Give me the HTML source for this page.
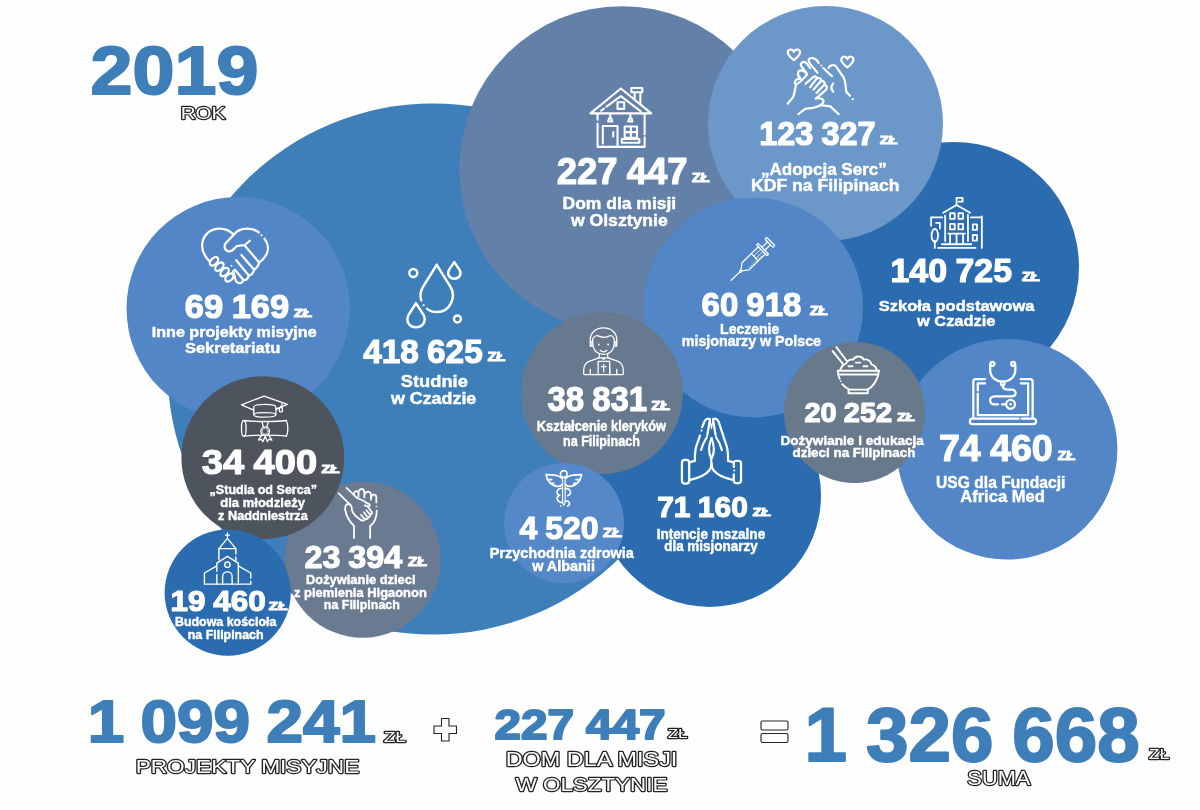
<!DOCTYPE html>
<html lang="pl"><head><meta charset="utf-8"><title>2019 rok – projekty misyjne</title>
<style>
html,body{margin:0;padding:0;background:#fff}
svg{display:block}
text{font-family:"Liberation Sans",sans-serif;font-weight:bold}
.n,.z,.l{fill:#fff;stroke:#fff;stroke-linejoin:round}
.n,.b{word-spacing:-.03em}
.n{stroke-width:1.2}
.z{stroke-width:1.1;text-transform:uppercase}
.u{text-transform:uppercase}
.l{stroke-width:0.45}
.b{fill:#3e7eb9;stroke:#3e7eb9;stroke-width:2.0;stroke-linejoin:round}
.o{fill:#fff;stroke:#222;stroke-width:2.3;stroke-linejoin:round;paint-order:stroke fill;font-weight:normal;font-family:"Liberation Sans",sans-serif}
.os{fill:#fff;stroke:#222;stroke-width:1.1;stroke-linejoin:round}
.i{fill:none;stroke:#fff;stroke-width:1.9;stroke-linecap:round;stroke-linejoin:round}
</style></head><body>
<svg width="1200" height="810" viewBox="0 0 1200 810">
<rect width="1200" height="810" fill="#fefefe"/>
<g id="bubbles">
<circle cx="433" cy="369" r="265.5" fill="#3e7eb9"/>
<circle cx="709.5" cy="495.5" r="111.5" fill="#2b6cb0"/>
<circle cx="622" cy="169" r="162.8" fill="#6280a8"/>
<circle cx="953.7" cy="267.2" r="125.3" fill="#2b6cb0"/>
<circle cx="825.5" cy="123.5" r="117.5" fill="#6b97c9"/>
<circle cx="1007.1" cy="449.2" r="110.3" fill="#5286c6"/>
<circle cx="753.2" cy="307.5" r="109.8" fill="#5286c6"/>
<circle cx="602" cy="393" r="81" fill="#67798f"/>
<circle cx="854.5" cy="412.5" r="70.6" fill="#69798c"/>
<circle cx="564" cy="523" r="60" fill="#5588c9"/>
<circle cx="238.2" cy="308.6" r="111.7" fill="#5286c6"/>
<circle cx="362.7" cy="559.7" r="78.1" fill="#6a7a90"/>
<circle cx="262.8" cy="457.7" r="81.4" fill="#4d545e"/>
<circle cx="227.7" cy="592.6" r="63.1" fill="#2b6cb0"/>
</g>
<g id="icons" class="i">
<g transform="translate(190,220) scale(0.08645)" stroke-width="26">
<path d="M505 170C450 110 385 98 330 100C220 105 140 190 140 300C140 370 180 430 225 478"/>
<path d="M505 170C545 122 605 100 660 100C712 100 760 115 795 142"/>
<path d="M862 215C902 270 915 345 882 402C862 440 832 470 800 492"/>
<path d="M505 170L415 265C385 300 398 350 445 362C482 368 502 345 527 315C537 303 547 298 572 297L630 292L692 240"/>
<path d="M630 292L800 492C792 532 765 560 742 575C737 612 705 640 680 642C675 682 642 702 615 692C608 735 555 748 528 700L500 590"/>
<path d="M595 405L742 575M535 465L680 642M520 575L615 692"/>
<ellipse cx="278" cy="478" rx="58" ry="36" transform="rotate(-45 278 478)"/>
<ellipse cx="340" cy="540" rx="58" ry="36" transform="rotate(-45 340 540)"/>
<ellipse cx="400" cy="602" rx="58" ry="36" transform="rotate(-45 400 602)"/>
<ellipse cx="455" cy="665" rx="55" ry="36" transform="rotate(-45 455 665)"/>
<circle cx="828" cy="175" r="12" fill="#fff" stroke="none"/><circle cx="480" cy="530" r="12" fill="#fff" stroke="none"/></g>
<g transform="translate(395,255) scale(0.09879)" stroke-width="25">
<path d="M422 100L562 322C622 425 560 578 425 578C385 578 350 565 325 545"/>
<path d="M422 100L285 320C255 370 250 412 266 458"/>
<path d="M600 72L652 148C682 198 645 240 600 240C555 240 520 198 548 148Z"/>
<path d="M212 487L286 602C326 672 275 732 212 732C150 732 100 672 140 602Z"/>
<circle cx="185" cy="182" r="40"/>
<circle cx="632" cy="648" r="35"/>
<circle cx="290" cy="508" r="11" fill="#fff" stroke="none"/></g>
<g transform="translate(580,78) scale(0.09501)" stroke-width="22">
<path d="M110 372L430 110L750 372Z"/>
<path d="M222 345L252 322M278 302L430 190L640 352"/>
<path d="M540 105H655V150H540ZM575 150V225M635 150V270"/>
<rect x="395" y="255" width="70" height="70"/>
<path d="M185 380V440M185 480V725H680V625M680 595V380"/>
<path d="M318 380V415M296 458L306 425H330L340 458ZM530 380V415M508 458L518 425H542L552 458Z"/>
<path d="M240 690V505H395V722"/>
<path d="M350 570V615"/>
<path d="M470 510H600V630H470ZM535 510V630M470 570H600"/>
<rect x="440" y="642" width="185" height="40"/>
</g>
<g transform="translate(785,50) scale(0.08393)" stroke-width="26"><path d="M106 120.0C71.0 92.0 33.2 59.8 33.2 29.0C33.2 -13.0 89.2 -20.0 106 22.0C122.8 -20.0 178.8 -13.0 178.8 29.0C178.8 59.8 141.0 92.0 106 120.0Z"/><path d="M743 206.0C708.0 178.0 670.2 145.8 670.2 115.0C670.2 73.0 726.2 66.0 743 108.0C759.8 66.0 815.8 73.0 815.8 115.0C815.8 145.8 778.0 178.0 743 206.0Z"/>
<path d="M400 152C372 95 312 85 290 105C275 120 285 145 300 165L388 272"/>
<path d="M265 288L195 195C175 160 215 125 250 150L300 215"/>
<path d="M262 292C235 235 170 225 155 270C150 300 165 325 185 340"/>
<path d="M130 420C100 380 130 340 178 345"/>
<path d="M130 420C118 470 112 520 98 560L30 640"/>
<path d="M455 215L560 312"/>
<path d="M520 215C530 180 590 165 612 202L700 330C730 390 720 470 732 502L775 545"/>
<path d="M575 400C545 430 545 470 575 495"/>
<path d="M150 400C200 370 230 330 262 292"/>
<path d="M245 402L340 320C360 305 385 320 375 345L300 442"/>
<path d="M375 345C400 320 440 340 425 372L340 472"/>
<path d="M425 376C455 356 485 386 465 416L375 512"/>
<path d="M465 420C495 410 510 446 490 472L400 552L365 580C400 570 460 575 460 612C450 652 380 680 330 690L240 702L160 765"/>
<path d="M420 656L540 672L640 765"/>
<circle cx="432" cy="185" r="13" fill="#fff" stroke="none"/><circle cx="808" cy="585" r="14" fill="#fff" stroke="none"/></g>
<g transform="translate(920,185) scale(0.09259)" stroke-width="19.5">
<path d="M395 215V140H460V180H420"/>
<path d="M250 300L395 215L540 300"/>
<path d="M272 330V605M518 320V605"/>
<path d="M325 305H375V365H325ZM415 305H465V365H415ZM325 420H375V480H325ZM415 420H465V480H415Z"/>
<path d="M305 525H485M325 525V635M395 525V635M465 525V635"/>
<path d="M235 640H555M195 680H600"/>
<path d="M240 350H120V440M175 410H215V470"/>
<ellipse cx="160" cy="545" rx="35" ry="70"/>
<path d="M160 600V680"/>
<path d="M550 350H668M668 340V680"/>
<path d="M570 425H615V485H570ZM570 540H615V600H570Z"/>
</g>
<g transform="translate(720,225) scale(0.08642)" stroke-width="14.5">
<g transform="translate(130,640) rotate(-44.4)">
<path d="M0 0H140"/>
<circle cx="152" cy="0" r="12"/>
<path d="M166 -8L232 -58H500M166 8L232 58H500"/>
<rect x="495" y="-88" width="26" height="176" rx="13"/>
<path d="M521 -24H612M521 24H612"/>
<rect x="612" y="-68" width="30" height="136" rx="15"/>
<path d="M382 -58V58"/>
<path d="M382 -18H495M382 18H495" stroke-width="9"/>
<path d="M260 58V34M285 58V40M310 58V34M335 58V40M360 58V34M410 58V40M440 58V34" stroke-width="9"/>
</g></g>
<g transform="translate(960,350) scale(0.09879)" stroke-width="23">
<path d="M255 295H160Q135 295 135 320V690M615 295H710Q735 295 735 320V690"/>
<path d="M255 337H180V410M180 442V660H690V337H615"/>
<path d="M595 695H125Q100 695 100 722Q100 750 125 750H745Q770 750 770 722Q770 695 745 695H625"/>
<path d="M305 150V200C305 280 370 320 432 320C495 320 560 280 560 200V150"/>
<circle cx="328" cy="140" r="20"/><circle cx="537" cy="140" r="20"/>
<circle cx="432" cy="338" r="18"/>
<path d="M432 358C432 392 450 400 480 400H520C572 400 582 470 520 470H350C290 470 290 550 350 550H385M425 550H465"/>
<circle cx="512" cy="550" r="45"/>
<circle cx="512" cy="550" r="14" fill="#fff" stroke="none"/></g>
<g transform="translate(820,340) scale(0.07407)" stroke-width="26">
<path d="M240 415H795M255 465H780"/>
<path d="M240 415C240 445 250 490 265 522M300 597C330 632 370 660 400 670"/>
<path d="M795 415C795 500 730 622 640 670"/>
<rect x="385" y="670" width="260" height="50"/>
<path d="M275 400C290 360 320 330 350 320C370 270 420 260 450 265C470 220 560 200 590 265C640 250 690 290 690 325C730 340 760 370 765 400"/>
<path d="M385 355H440M485 305H545M585 355H640"/>
<path d="M220 95L360 280M170 150L320 335"/>
<circle cx="280" cy="555" r="12" fill="#fff" stroke="none"/></g>
<g transform="translate(570,318) scale(0.08274)" stroke-width="15.5">
<path d="M245 335V260C245 170 320 120 405 120C490 120 565 170 565 260V335"/>
<path d="M245 290H265V340H245M565 290H545V340H565"/>
<path d="M275 300V250C290 215 330 208 350 220C400 240 450 235 480 215C510 208 530 240 535 260V300C535 400 470 440 405 440C340 440 275 400 275 300Z"/>
<path d="M365 390C385 415 425 415 445 390"/>
<path d="M355 440V478M455 440V478M340 482H470M385 482L407 500L430 482"/>
<path d="M340 485L230 525C180 545 165 580 165 640V670Q165 685 180 685H630Q645 685 645 670V640C645 580 630 545 580 525L470 485"/>
<path d="M340 685V525H480V685"/>
<path d="M407 560V650M380 588H435"/>
<path d="M245 620V685M565 620V685M480 600V685"/>
<circle cx="348" cy="320" r="11" fill="#fff" stroke="none"/><circle cx="460" cy="320" r="11" fill="#fff" stroke="none"/></g>
<g transform="translate(535,462) scale(0.06667)" stroke-width="24">
<circle cx="432" cy="180" r="50"/>
<path d="M413 240V610L432 650L452 610V240" stroke-width="17"/>
<path d="M400 245C370 200 300 190 165 190C175 260 230 350 330 365C370 368 400 350 413 330"/>
<path d="M250 265H185M285 320H228"/>
<path d="M465 245C495 200 565 190 700 190C690 260 635 350 535 365C495 368 465 350 452 330"/>
<path d="M615 265H680M580 320H637"/>
<path d="M410 395C330 390 300 470 370 500C310 520 320 600 410 610"/>
<path d="M455 395C540 400 560 480 490 505M455 590C520 570 540 640 490 660"/>
<circle cx="385" cy="660" r="13" fill="#fff" stroke="none"/></g>
<g transform="translate(670,408) scale(0.10369)" stroke-width="21.5">
<path d="M385 110C365 92 342 108 330 135L310 185M290 265L250 380C240 420 240 460 240 510L185 525"/>
<rect x="115" y="500" width="70" height="230" rx="28"/>
<path d="M185 695C260 680 340 650 380 600C395 580 400 560 400 540"/>
<path d="M385 110L360 262M355 282C330 320 310 360 300 405"/>
<path d="M400 290C372 360 372 430 395 480C400 510 400 540 400 560"/>
<path d="M400 290C428 360 428 430 405 480"/>
<path d="M385 110L400 200L415 110" stroke-width="12"/>
<path d="M415 110C435 92 458 108 470 135L550 380C560 420 560 460 560 510L615 525"/>
<path d="M615 570V525C615 505 685 500 685 530V700C685 735 615 735 615 700V640"/>
<path d="M615 695C540 680 460 650 420 600C405 580 400 560 400 540"/>
<path d="M415 110L440 262M445 282C470 320 490 360 500 405"/>
<circle cx="305" cy="218" r="10" fill="#fff" stroke="none"/><circle cx="620" cy="603" r="10" fill="#fff" stroke="none"/></g>
<g transform="translate(230,388) scale(0.07651)" stroke-width="17">
<path d="M310 290L150 220L445 105L750 215L600 275"/>
<path d="M310 250C310 222 380 215 455 215C530 215 600 222 600 250V350C600 392 310 392 310 350Z"/>
<path d="M310 345C330 315 580 315 600 345"/>
<path d="M610 275L660 255M680 208L665 252"/>
<rect x="645" y="255" width="40" height="58" rx="12"/>
<path d="M180 425C300 442 600 442 735 425M180 630C300 612 600 612 735 630"/>
<ellipse cx="180" cy="528" rx="30" ry="103"/>
<path d="M735 425C762 470 762 590 735 630"/>
<circle cx="460" cy="565" r="56"/><circle cx="460" cy="565" r="38" stroke-width="8"/>
<path d="M420 448L436 512M498 448L482 512"/>
<path d="M418 612L372 680L412 672L430 702L460 632L488 702L508 672L548 680L502 612"/>
</g>
<g transform="translate(330,478) scale(0.08274)" stroke-width="21.5">
<path d="M200 120L320 235M105 185L240 320"/>
<path d="M240 320C200 300 175 340 185 390C195 450 230 520 290 580V725"/>
<path d="M485 725V580C540 540 565 470 565 395M560 295V230C555 190 505 190 500 235"/>
<path d="M290 190C300 150 340 150 345 185V225M345 175C350 120 410 120 415 170V235M425 190C440 150 490 160 495 200V262"/>
<path d="M320 235C360 260 410 270 440 300L470 312C490 322 480 347 455 342L420 330"/>
<path d="M455 345L505 410C515 432 495 447 480 432C495 460 475 477 460 467C465 495 445 502 430 490C420 522 385 522 370 502"/>
<path d="M440 390L475 432M410 415L445 462M375 445L410 490"/>
<path d="M240 320C260 330 265 360 265 390C280 440 330 480 370 505"/>
<circle cx="560" cy="345" r="10" fill="#fff" stroke="none"/></g>
<g transform="translate(192,525) scale(0.08274)" stroke-width="17">
<path d="M428 95V152M405 122H452"/>
<path d="M428 162L325 285H530Z"/>
<path d="M325 285V420M530 285V350M530 385V425"/>
<path d="M300 560V460L428 380L560 460V715M300 600V715"/>
<circle cx="428" cy="480" r="32"/>
<path d="M370 715V620C370 548 485 548 485 620V715"/>
<path d="M300 495L150 580V715H710V680M710 640V580L560 495"/>
</g>

</g>
<g id="labels">
<text class="n" x="184.80" y="317.67" font-size="33.47" textLength="104.30" lengthAdjust="spacingAndGlyphs">69 169</text>
<text class="z" x="294.10" y="317.25" font-size="11.63" textLength="18.00" lengthAdjust="spacingAndGlyphs">zł</text>
<text class="l" x="151.70" y="336.97" font-size="14.90" textLength="165.00" lengthAdjust="spacingAndGlyphs">Inne projekty misyjne</text>
<text class="l" x="184.90" y="353.17" font-size="14.90" textLength="95.40" lengthAdjust="spacingAndGlyphs">Sekretariatu</text>
<text class="n" x="363.20" y="363.06" font-size="33.90" textLength="119.50" lengthAdjust="spacingAndGlyphs">418 625</text>
<text class="z" x="487.80" y="360.85" font-size="12.06" textLength="17.60" lengthAdjust="spacingAndGlyphs">zł</text>
<text class="l" x="400.80" y="387.17" font-size="16.79" textLength="67.00" lengthAdjust="spacingAndGlyphs">Studnie</text>
<text class="l" x="390.90" y="404.17" font-size="16.79" textLength="85.40" lengthAdjust="spacingAndGlyphs">w Czadzie</text>
<text class="n" x="556.70" y="183.72" font-size="37.71" textLength="131.00" lengthAdjust="spacingAndGlyphs">227 447</text>
<text class="z" x="692.00" y="181.75" font-size="12.35" textLength="17.60" lengthAdjust="spacingAndGlyphs">zł</text>
<text class="l" x="562.50" y="209.28" font-size="16.79" textLength="113.70" lengthAdjust="spacingAndGlyphs">Dom dla misji</text>
<text class="l" x="571.00" y="225.58" font-size="16.35" textLength="96.70" lengthAdjust="spacingAndGlyphs">w Olsztynie</text>
<text class="n" x="759.28" y="144.58" font-size="32.34" textLength="116.32" lengthAdjust="spacingAndGlyphs">123 327</text>
<text class="z" x="879.90" y="143.95" font-size="11.48" textLength="17.60" lengthAdjust="spacingAndGlyphs">zł</text>
<text class="l" x="761.00" y="174.97" font-size="16.79" textLength="125.80" lengthAdjust="spacingAndGlyphs">„Adopcja Serc”</text>
<text class="l" x="751.10" y="191.28" font-size="16.79" textLength="148.40" lengthAdjust="spacingAndGlyphs">KDF na Filipinach</text>
<text class="n" x="890.53" y="282.07" font-size="33.33" textLength="121.47" lengthAdjust="spacingAndGlyphs">140 725</text>
<text class="z" x="1021.90" y="281.25" font-size="11.92" textLength="17.90" lengthAdjust="spacingAndGlyphs">zł</text>
<text class="l" x="878.80" y="310.97" font-size="15.48" textLength="155.60" lengthAdjust="spacingAndGlyphs">Szkoła podstawowa</text>
<text class="l" x="917.00" y="325.77" font-size="15.48" textLength="78.40" lengthAdjust="spacingAndGlyphs">w Czadzie</text>
<text class="n" x="701.60" y="316.16" font-size="33.76" textLength="99.70" lengthAdjust="spacingAndGlyphs">60 918</text>
<text class="z" x="809.90" y="315.15" font-size="12.21" textLength="17.90" lengthAdjust="spacingAndGlyphs">zł</text>
<text class="l" x="720.10" y="334.27" font-size="13.74" textLength="59.10" lengthAdjust="spacingAndGlyphs">Leczenie</text>
<text class="l" x="681.80" y="346.38" font-size="13.74" textLength="139.20" lengthAdjust="spacingAndGlyphs">misjonarzy w Polsce</text>
<text class="n" x="938.90" y="461.12" font-size="37.71" textLength="113.90" lengthAdjust="spacingAndGlyphs">74 460</text>
<text class="z" x="1057.80" y="459.55" font-size="12.35" textLength="17.60" lengthAdjust="spacingAndGlyphs">zł</text>
<text class="l" x="936.10" y="487.77" font-size="16.79" textLength="129.30" lengthAdjust="spacingAndGlyphs">USG dla Fundacji</text>
<text class="l" x="960.20" y="502.38" font-size="16.50" textLength="84.70" lengthAdjust="spacingAndGlyphs">Africa Med</text>
<text class="n" x="804.40" y="421.73" font-size="27.26" textLength="87.70" lengthAdjust="spacingAndGlyphs">20 252</text>
<text class="z" x="897.20" y="421.35" font-size="11.77" textLength="17.60" lengthAdjust="spacingAndGlyphs">zł</text>
<text class="l" x="780.40" y="445.07" font-size="12.72" textLength="143.50" lengthAdjust="spacingAndGlyphs">Dożywianie i edukacja</text>
<text class="l" x="792.50" y="457.07" font-size="12.72" textLength="122.90" lengthAdjust="spacingAndGlyphs">dzieci na Filipinach</text>
<text class="n" x="547.40" y="411.35" font-size="34.89" textLength="99.70" lengthAdjust="spacingAndGlyphs">38 831</text>
<text class="z" x="651.50" y="409.95" font-size="12.21" textLength="18.30" lengthAdjust="spacingAndGlyphs">zł</text>
<text class="l" x="536.80" y="431.07" font-size="13.74" textLength="129.30" lengthAdjust="spacingAndGlyphs">Kształcenie kleryków</text>
<text class="l" x="563.00" y="446.38" font-size="13.74" textLength="76.90" lengthAdjust="spacingAndGlyphs">na Filipinach</text>
<text class="n" x="519.40" y="539.18" font-size="31.92" textLength="79.20" lengthAdjust="spacingAndGlyphs">4 520</text>
<text class="z" x="602.90" y="537.35" font-size="12.21" textLength="19.00" lengthAdjust="spacingAndGlyphs">zł</text>
<text class="l" x="489.70" y="557.88" font-size="13.74" textLength="144.20" lengthAdjust="spacingAndGlyphs">Przychodnia zdrowia</text>
<text class="l" x="532.20" y="571.38" font-size="13.74" textLength="62.70" lengthAdjust="spacingAndGlyphs">w Albanii</text>
<text class="n" x="657.20" y="516.85" font-size="29.59" textLength="90.60" lengthAdjust="spacingAndGlyphs">71 160</text>
<text class="z" x="752.80" y="516.05" font-size="10.76" textLength="18.10" lengthAdjust="spacingAndGlyphs">zł</text>
<text class="l" x="656.70" y="539.17" font-size="13.88" textLength="108.50" lengthAdjust="spacingAndGlyphs">Intencje mszalne</text>
<text class="l" x="664.20" y="551.02" font-size="13.88" textLength="93.50" lengthAdjust="spacingAndGlyphs">dla misjonarzy</text>
<text class="n" x="201.70" y="474.45" font-size="35.31" textLength="115.40" lengthAdjust="spacingAndGlyphs">34 400</text>
<text class="z" x="321.40" y="472.75" font-size="11.77" textLength="18.30" lengthAdjust="spacingAndGlyphs">zł</text>
<text class="l" x="209.60" y="494.27" font-size="13.15" textLength="107.40" lengthAdjust="spacingAndGlyphs">„Studia od Serca”</text>
<text class="l" x="220.30" y="507.47" font-size="13.15" textLength="84.60" lengthAdjust="spacingAndGlyphs">dla młodzieży</text>
<text class="l" x="218.10" y="519.77" font-size="13.15" textLength="89.70" lengthAdjust="spacingAndGlyphs">z Naddniestrza</text>
<text class="n" x="304.50" y="567.78" font-size="31.92" textLength="97.70" lengthAdjust="spacingAndGlyphs">23 394</text>
<text class="z" x="407.90" y="565.65" font-size="12.94" textLength="19.00" lengthAdjust="spacingAndGlyphs">zł</text>
<text class="l" x="306.00" y="583.67" font-size="12.72" textLength="109.50" lengthAdjust="spacingAndGlyphs">Dożywianie dzieci</text>
<text class="l" x="294.00" y="596.67" font-size="12.72" textLength="132.80" lengthAdjust="spacingAndGlyphs">z plemienia Higaonon</text>
<text class="l" x="323.80" y="608.67" font-size="12.72" textLength="76.10" lengthAdjust="spacingAndGlyphs">na Filipinach</text>
<text class="n" x="170.52" y="611.20" font-size="29.66" textLength="95.38" lengthAdjust="spacingAndGlyphs">19 460</text>
<text class="z" x="268.80" y="610.05" font-size="11.48" textLength="18.70" lengthAdjust="spacingAndGlyphs">zł</text>
<text class="l" x="175.00" y="626.48" font-size="12.86" textLength="101.30" lengthAdjust="spacingAndGlyphs">Budowa kościoła</text>
<text class="l" x="187.80" y="639.27" font-size="12.86" textLength="75.70" lengthAdjust="spacingAndGlyphs">na Filipinach</text>
</g>
<g id="totals">
<text class="b" x="90.58" y="94.31" font-size="69.21" textLength="167.84" lengthAdjust="spacingAndGlyphs">2019</text>
<text class="b" x="87.74" y="742.42" font-size="58.33" textLength="288.30" lengthAdjust="spacingAndGlyphs">1 099 241</text>
<text class="b" x="494.53" y="738.58" font-size="41.95" textLength="170.94" lengthAdjust="spacingAndGlyphs">227 447</text>
<text class="b" x="804.61" y="761.45" font-size="75.14" textLength="335.02" lengthAdjust="spacingAndGlyphs">1 326 668</text>
<text class="o" x="180.65" y="118.85" font-size="17.01" textLength="44.70" lengthAdjust="spacingAndGlyphs">ROK</text>
<text class="o u" x="383.65" y="742.15" font-size="14.97" textLength="22.40" lengthAdjust="spacingAndGlyphs">zł</text>
<text class="o" x="135.65" y="772.85" font-size="18.46" textLength="223.70" lengthAdjust="spacingAndGlyphs">PROJEKTY MISYJNE</text>
<text class="o u" x="667.65" y="738.15" font-size="13.08" textLength="19.70" lengthAdjust="spacingAndGlyphs">zł</text>
<text class="o" x="505.65" y="766.15" font-size="19.33" textLength="171.70" lengthAdjust="spacingAndGlyphs">DOM DLA MISJI</text>
<text class="o" x="515.65" y="790.55" font-size="18.46" textLength="151.70" lengthAdjust="spacingAndGlyphs">W OLSZTYNIE</text>
<text class="o u" x="1148.65" y="759.45" font-size="14.97" textLength="20.70" lengthAdjust="spacingAndGlyphs">zł</text>
<text class="o" x="967.35" y="784.55" font-size="19.48" textLength="63.00" lengthAdjust="spacingAndGlyphs">SUMA</text>
<path class="os" d="M441.5 718.5h7.5v7.5h7.5v7.5h-7.5v7.5h-7.5v-7.5h-7.5v-7.5h7.5z"/>
<rect class="os" x="761" y="721" width="27" height="9" rx="1.5"/>
<rect class="os" x="761" y="733.5" width="27" height="9" rx="1.5"/>
</g>
</svg></body></html>
